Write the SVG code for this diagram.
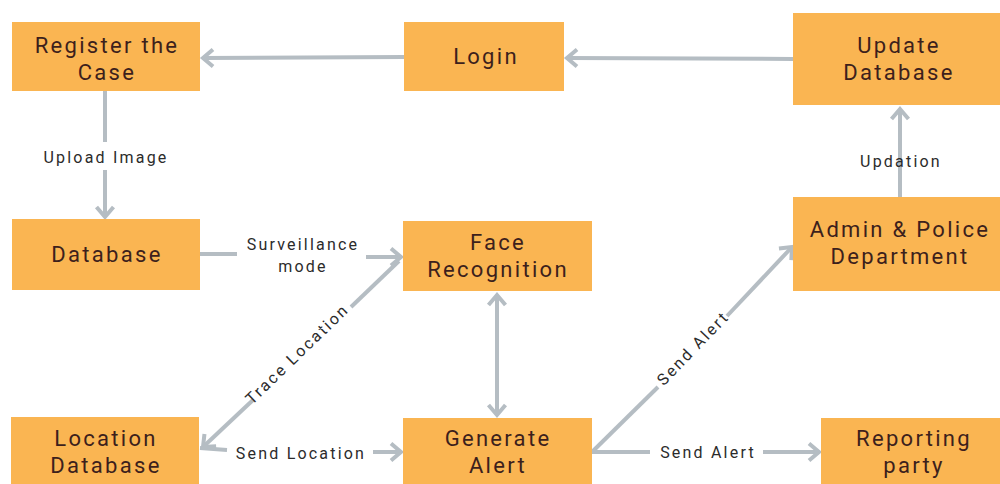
<svg xmlns="http://www.w3.org/2000/svg" width="1000" height="484" viewBox="0 0 1000 484">
<defs>
<style>
.box{fill:#FAB552;}
.nt{font-family:Roboto,"Liberation Sans",sans-serif;font-size:22px;fill:#3d1f1c;text-anchor:middle;letter-spacing:2.3px;}
.et{font-family:Roboto,"Liberation Sans",sans-serif;font-size:16px;fill:#2b2b2b;text-anchor:middle;letter-spacing:2.2px;}
.ln{fill:none;stroke:#B5BDC3;stroke-width:4;stroke-linecap:butt;}
</style>
<marker id="ah" markerUnits="userSpaceOnUse" markerWidth="24" markerHeight="24" viewBox="-14 -12 16 24" refX="0" refY="0" orient="auto-start-reverse">
<path d="M-10,-8.5 L0,0 L-10,8.5" fill="none" stroke="#B5BDC3" stroke-width="4" stroke-linejoin="miter"/>
</marker>
</defs>
<rect width="1000" height="484" fill="#ffffff"/>

<g id="connectors">
<path class="ln" d="M793,59 L567,58" marker-end="url(#ah)"/>
<path class="ln" d="M404,57 L203,58" marker-end="url(#ah)"/>
<path class="ln" d="M105,91 L105,142"/>
<path class="ln" d="M105,170 L105,217" marker-end="url(#ah)"/>
<path class="ln" d="M200,254 L237,254"/>
<path class="ln" d="M366,257 L401,257" marker-end="url(#ah)"/>
<path class="ln" d="M399,261 L351,307"/>
<path class="ln" d="M253,400 L203,447" marker-end="url(#ah)"/>
<path class="ln" d="M200,448 L227,450"/>
<path class="ln" d="M373,452 L401,452" marker-end="url(#ah)"/>
<path class="ln" d="M497,295 L497,415" marker-start="url(#ah)" marker-end="url(#ah)"/>
<path class="ln" d="M900,197 L900,109" marker-end="url(#ah)"/>
<path class="ln" d="M592,452 L658,387"/>
<path class="ln" d="M727,316 L792,247" marker-end="url(#ah)"/>
<path class="ln" d="M592,452 L650,452"/>
<path class="ln" d="M763,452 L819,452" marker-end="url(#ah)"/>
<text class="et" x="106" y="163">Upload Image</text>
<text class="et" x="901" y="167">Updation</text>
<text class="et" x="303" y="250">Surveillance</text>
<text class="et" x="303" y="272">mode</text>
<text class="et" x="301" y="459">Send Location</text>
<text class="et" x="708" y="458">Send Alert</text>
<text class="et" transform="translate(301,358) rotate(-44)">Trace Location</text>
<text class="et" transform="translate(697,352) rotate(-46)">Send Alert</text>
</g>

<g id="register">
<rect class="box" x="12" y="22" width="188" height="69"/>
<text class="nt" x="107" y="53">Register the</text>
<text class="nt" x="107" y="80">Case</text>
</g>
<g id="login">
<rect class="box" x="404" y="22" width="160" height="69"/>
<text class="nt" x="486" y="64">Login</text>
</g>
<g id="update-db">
<rect class="box" x="793" y="13" width="212" height="92"/>
<text class="nt" x="899" y="53">Update</text>
<text class="nt" x="899" y="80">Database</text>
</g>
<g id="database">
<rect class="box" x="12" y="219" width="188" height="71"/>
<text class="nt" x="107" y="262">Database</text>
</g>
<g id="face">
<rect class="box" x="403" y="221" width="189" height="70"/>
<text class="nt" x="498" y="250">Face</text>
<text class="nt" x="498" y="277">Recognition</text>
</g>
<g id="admin">
<rect class="box" x="793" y="197" width="212" height="94"/>
<text class="nt" x="900" y="237">Admin &amp; Police</text>
<text class="nt" x="900" y="264">Department</text>
</g>
<g id="location-db">
<rect class="box" x="11" y="417" width="188" height="70"/>
<text class="nt" x="106" y="446">Location</text>
<text class="nt" x="106" y="473">Database</text>
</g>
<g id="generate">
<rect class="box" x="403" y="418" width="189" height="70"/>
<text class="nt" x="498" y="446">Generate</text>
<text class="nt" x="498" y="473">Alert</text>
</g>
<g id="reporting">
<rect class="box" x="821" y="418" width="184" height="70"/>
<text class="nt" x="914" y="446">Reporting</text>
<text class="nt" x="914" y="473">party</text>
</g>
</svg>
